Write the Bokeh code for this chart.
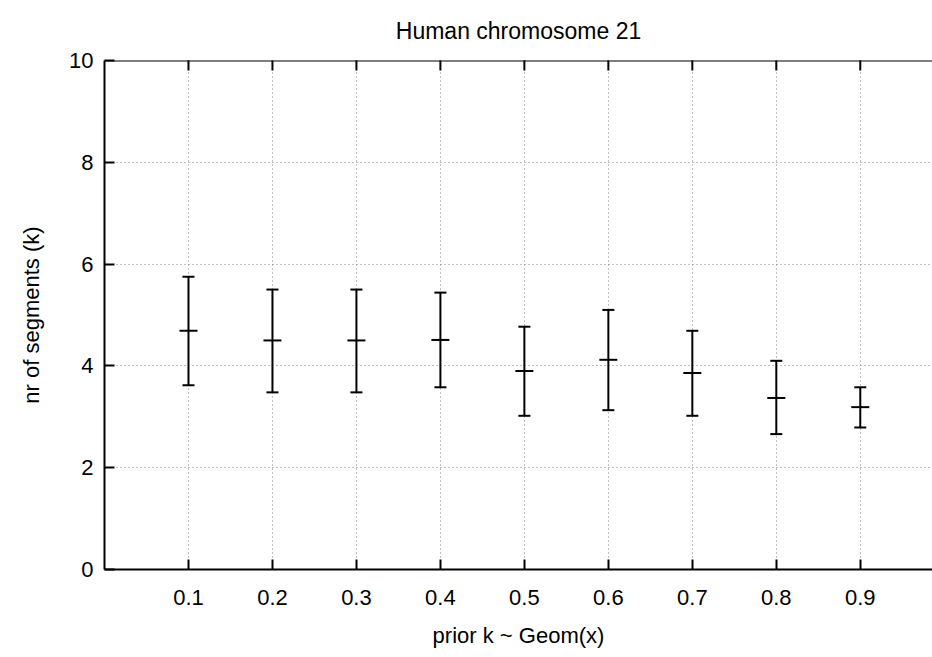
import math
from bokeh.plotting import figure
from bokeh.models import LinearAxis, FixedTicker, Range1d, ColumnDataSource, Span
from bokeh.embed import file_html
from bokeh.resources import INLINE

# Data
prior_x = [0.1, 0.2, 0.3, 0.4, 0.5, 0.6, 0.7, 0.8, 0.9]
seg_mean = [4.69, 4.50, 4.50, 4.51, 3.90, 4.12, 3.86, 3.37, 3.19]
seg_low = [3.62, 3.48, 3.48, 3.58, 3.02, 3.13, 3.02, 2.66, 2.79]
seg_high = [5.75, 5.50, 5.50, 5.44, 4.77, 5.10, 4.69, 4.10, 3.58]
x_ticks = [0.1, 0.2, 0.3, 0.4, 0.5, 0.6, 0.7, 0.8, 0.9]
y_ticks = [0, 2, 4, 6, 8, 10]
Y_MAX = 10
X_MAX = 0.986

FONT = "Liberation Sans"

src = ColumnDataSource(dict(x=prior_x, m=seg_mean, lo=seg_low, hi=seg_high))
top_src = ColumnDataSource(dict(x=x_ticks, y=[Y_MAX] * len(x_ticks)))

p = figure(width=932, height=657, output_backend="svg", toolbar_location=None,
           x_range=Range1d(0, X_MAX), y_range=Range1d(0, Y_MAX),
           min_border_left=104, min_border_right=0, min_border_top=60,
           min_border_bottom=88, x_axis_location=None, y_axis_location=None)
p.outline_line_color = None
p.background_fill_color = "white"
p.border_fill_color = "white"

p.title.text = "Human chromosome 21"
p.title.text_font = FONT
p.title.text_font_size = "23px"
p.title.text_font_style = "normal"
p.title.text_color = "black"
p.title.align = "center"
p.title.vertical_align = "top"
p.title.standoff = 30

def style_axis(ax):
    ax.axis_line_color = "black"
    ax.axis_line_width = 2
    ax.major_tick_in = 10
    ax.major_tick_out = 0
    ax.major_tick_line_color = "black"
    ax.major_tick_line_width = 2
    ax.minor_tick_line_color = None
    ax.major_label_text_font = FONT
    ax.major_label_text_font_size = "22px"
    ax.major_label_text_color = "black"
    ax.axis_label_text_font = FONT
    ax.axis_label_text_font_size = "22px"
    ax.axis_label_text_font_style = "normal"
    ax.axis_label_text_color = "black"

xb = LinearAxis(ticker=FixedTicker(ticks=x_ticks), axis_label="prior k ~ Geom(x)")
style_axis(xb)
xb.major_label_standoff = 20
xb.axis_label_standoff = 15
p.add_layout(xb, "below")

yl = LinearAxis(ticker=FixedTicker(ticks=y_ticks), axis_label="nr of segments (k)")
style_axis(yl)
yl.major_label_standoff = 11
yl.axis_label_standoff = 22
p.add_layout(yl, "left")

# top border line with inward ticks
p.add_layout(Span(location=Y_MAX, dimension="width", line_color="black", line_width=2))
p.scatter(x="x", y="y", source=top_src, marker="dash", angle=math.pi / 2, size=20,
          line_color="black", line_width=2)

p.xgrid.ticker = FixedTicker(ticks=x_ticks)
p.ygrid.ticker = FixedTicker(ticks=y_ticks)
for g in (p.xgrid, p.ygrid):
    g.grid_line_color = "#808080"
    g.grid_line_width = 1
    g.grid_line_dash = "1 3"

p.segment(x0="x", y0="lo", x1="x", y1="hi", source=src, line_color="black", line_width=2)
p.scatter(x="x", y="hi", source=src, marker="dash", size=12, line_color="black", line_width=2)
p.scatter(x="x", y="lo", source=src, marker="dash", size=12, line_color="black", line_width=2)
p.scatter(x="x", y="m", source=src, marker="dash", size=18, line_color="black", line_width=2)

open("out.html", "w").write(file_html(p, INLINE))
